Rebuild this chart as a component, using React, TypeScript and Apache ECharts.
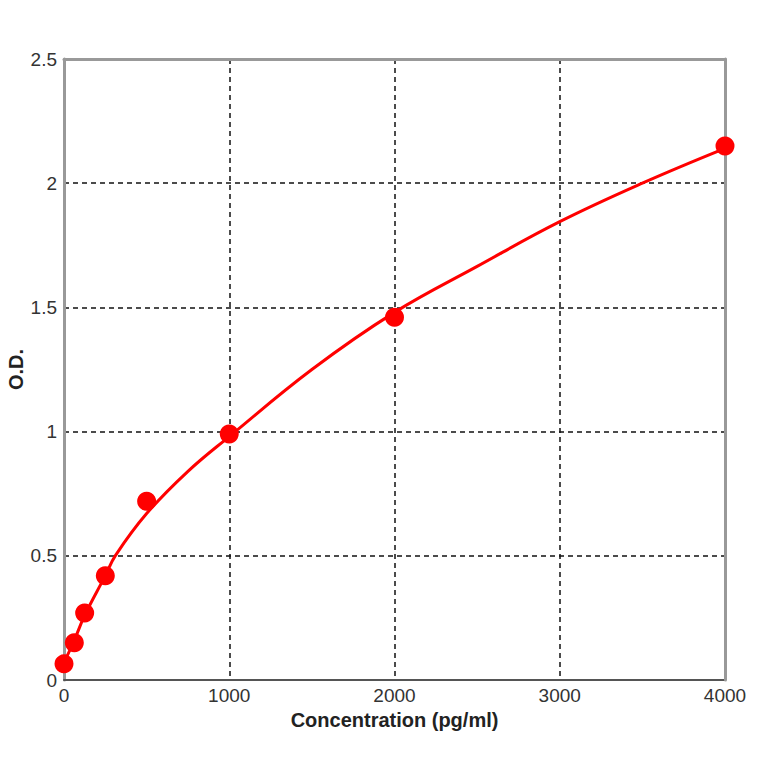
import React, { useEffect, useRef } from 'react';
import * as echarts from 'echarts';

// Standard points (concentration pg/ml, O.D.)
const stdConc = [0, 62.5, 125, 250, 500, 1000, 2000, 4000];
const stdOD = [0.065, 0.15, 0.27, 0.42, 0.72, 0.99, 1.46, 2.15];

// Fitted curve
const curveConc = [0, 62.5, 125, 250, 310, 500, 750, 1000, 1500, 2000, 2500, 3000, 3500, 4000];
const curveOD = [0.07, 0.16, 0.26, 0.42, 0.5, 0.67, 0.84, 0.98, 1.25, 1.48, 1.665, 1.845, 2.0, 2.14];

const xTicks = [0, 1000, 2000, 3000, 4000];
const yTicks = [0, 0.5, 1, 1.5, 2, 2.5];

const FONT = 'Liberation Sans, Arial, sans-serif';

export default function App() {
  const ref = useRef<HTMLDivElement>(null);

  useEffect(() => {
    if (!ref.current) return;
    const chart = echarts.init(ref.current, undefined, { renderer: 'svg' });

    const grid = { left: 64, right: 39, top: 59, bottom: 84, outerBoundsMode: 'none', containLabel: false };
    const dashed = { show: true, lineStyle: { color: '#111', width: 1.5, type: [5, 4] as number[] } };
    const label = { color: '#333', fontSize: 19, fontFamily: FONT };

    chart.setOption({
      animation: false,
      backgroundColor: '#fff',
      grid,
      xAxis: [
        {
          type: 'value',
          min: xTicks[0],
          max: xTicks[xTicks.length - 1],
          interval: 1000,
          name: 'Concentration (pg/ml)',
          nameLocation: 'middle',
          nameGap: 30,
          nameMoveOverlap: false,
          nameTextStyle: { color: '#222', fontSize: 20, fontWeight: 'bold', fontFamily: FONT },
          axisLine: { show: true, lineStyle: { color: '#555', width: 2 } },
          axisTick: { show: false },
          axisLabel: { ...label, margin: 6, formatter: (v: number) => String(v) },
          splitLine: dashed,
          z: 1,
        },
        {
          type: 'value',
          position: 'top',
          min: xTicks[0],
          max: xTicks[xTicks.length - 1],
          interval: 1000,
          axisLine: { show: true, onZero: false, lineStyle: { color: '#999', width: 3 } },
          axisTick: { show: false },
          axisLabel: { show: false },
          splitLine: { show: false },
          z: 5,
        },
      ],
      yAxis: [
        {
          type: 'value',
          min: yTicks[0],
          max: yTicks[yTicks.length - 1],
          interval: 0.5,
          name: 'O.D.',
          nameLocation: 'middle',
          nameGap: 38,
          nameMoveOverlap: false,
          nameTextStyle: { color: '#222', fontSize: 20, fontWeight: 'bold', fontFamily: FONT },
          axisLine: { show: true, onZero: false, lineStyle: { color: '#999', width: 3 } },
          axisTick: { show: false },
          axisLabel: { ...label, margin: 7, formatter: (v: number) => String(v) },
          splitLine: dashed,
          z: 1,
        },
        {
          type: 'value',
          position: 'right',
          min: yTicks[0],
          max: yTicks[yTicks.length - 1],
          interval: 0.5,
          axisLine: { show: true, onZero: false, lineStyle: { color: '#999', width: 3 } },
          axisTick: { show: false },
          axisLabel: { show: false },
          splitLine: { show: false },
          z: 5,
        },
      ],
      series: [
        {
          type: 'line',
          name: 'fit',
          data: curveConc.map((c, i) => [c, curveOD[i]]),
          smooth: 0.4,
          showSymbol: false,
          lineStyle: { color: '#ff0000', width: 3 },
          z: 6,
        },
        {
          type: 'scatter',
          name: 'standards',
          data: stdConc.map((c, i) => [c, stdOD[i]]),
          symbol: 'circle',
          symbolSize: 19,
          itemStyle: { color: '#ff0000', opacity: 1 },
          z: 7,
        },
      ],
    });

    return () => chart.dispose();
  }, []);

  return <div ref={ref} style={{ width: 764, height: 764, margin: -8 }} />;
}
